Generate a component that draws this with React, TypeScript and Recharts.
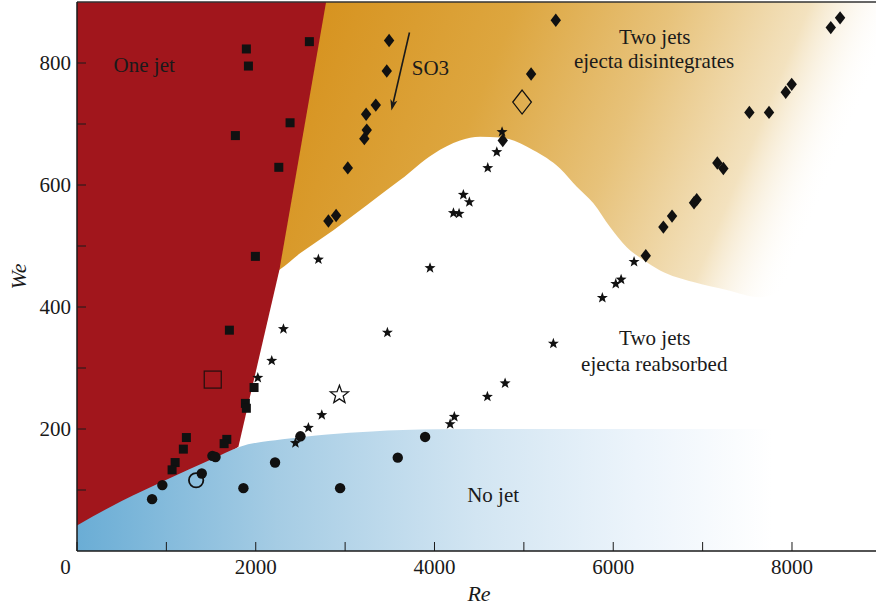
import React from 'react';
import {
  ComposedChart,
  Area,
  Scatter,
  XAxis,
  YAxis,
  ReferenceLine,
  ReferenceDot
} from 'recharts';

const FONT = '"Liberation Serif", "DejaVu Serif", serif';
const INK = '#1a1a1a';

// Regime boundaries as (Re, [We low, We high])
const redRegion = [
  { x: 0, range: [0, 900] },
  { x: 1806, range: [171, 900] },
  { x: 2265, range: [461, 900] },
  { x: 2787, range: [900, 900] }
];

const orangeRegion = [
  { x: 2200, range: [455, 900] },
  { x: 2265, range: [461, 900] },
  { x: 2496, range: [488, 900] },
  { x: 2869, range: [526, 900] },
  { x: 3242, range: [567, 900] },
  { x: 3615, range: [608, 900] },
  { x: 3988, range: [651, 900] },
  { x: 4286, range: [673, 900] },
  { x: 4510, range: [679, 900] },
  { x: 4734, range: [678, 900] },
  { x: 5107, range: [657, 900] },
  { x: 5405, range: [627, 900] },
  { x: 5592, range: [597, 900] },
  { x: 5778, range: [570, 900] },
  { x: 5964, range: [531, 900] },
  { x: 6151, range: [498, 900] },
  { x: 6337, range: [477, 900] },
  { x: 6524, range: [460, 900] },
  { x: 6897, range: [441, 900] },
  { x: 7270, range: [428, 900] },
  { x: 7643, range: [416, 900] },
  { x: 8016, range: [440, 900] },
  { x: 8389, range: [495, 900] },
  { x: 8762, range: [578, 900] },
  { x: 8940, range: [668, 900] }
];

const blueRegion = [
  { x: 0, range: [0, 42] },
  { x: 500, range: [0, 82] },
  { x: 1000, range: [0, 117] },
  { x: 1500, range: [0, 150] },
  { x: 1825, range: [0, 171] },
  { x: 2300, range: [0, 183] },
  { x: 2800, range: [0, 191] },
  { x: 3300, range: [0, 196] },
  { x: 4000, range: [0, 199.5] },
  { x: 5000, range: [0, 200] },
  { x: 8940, range: [0, 200] }
];

// Experiments
const oneJet = [
  { x: 1895, y: 823 }, { x: 1918, y: 795 }, { x: 2600, y: 835 }, { x: 2384, y: 702 },
  { x: 1772, y: 681 }, { x: 2258, y: 629 }, { x: 1996, y: 483 }, { x: 1705, y: 362 },
  { x: 1981, y: 268 }, { x: 1884, y: 242 }, { x: 1895, y: 234 }, { x: 1224, y: 186 },
  { x: 1676, y: 183 }, { x: 1646, y: 176 }, { x: 1190, y: 167 }, { x: 1098, y: 145 },
  { x: 1064, y: 133 }
];
const oneJetOpen = [{ x: 1519, y: 281 }];

const noJet = [
  { x: 840, y: 85 }, { x: 955, y: 108 }, { x: 1396, y: 127 }, { x: 1515, y: 156 },
  { x: 1550, y: 154 }, { x: 1862, y: 103 }, { x: 2216, y: 145 }, { x: 2500, y: 188 },
  { x: 2944, y: 103 }, { x: 3589, y: 153 }, { x: 3895, y: 187 }
];
const noJetOpen = [{ x: 1333, y: 116 }];

const reabsorbed = [
  { x: 2310, y: 364 }, { x: 2179, y: 312 }, { x: 2023, y: 284 }, { x: 2739, y: 223 },
  { x: 2589, y: 202 }, { x: 2444, y: 177 }, { x: 3473, y: 358 }, { x: 5330, y: 340 },
  { x: 4790, y: 275 }, { x: 4592, y: 253 }, { x: 4222, y: 220 }, { x: 4175, y: 208 },
  { x: 5878, y: 415 }, { x: 6028, y: 438 }, { x: 6088, y: 445 }, { x: 6233, y: 474 },
  { x: 2701, y: 478 }, { x: 3950, y: 464 }, { x: 4212, y: 554 }, { x: 4275, y: 553 },
  { x: 4323, y: 584 }, { x: 4390, y: 572 }, { x: 4596, y: 628 }, { x: 4697, y: 654 },
  { x: 4756, y: 687 }
];
const reabsorbedOpen = [{ x: 2936, y: 256 }];

const disintegrates = [
  { x: 3492, y: 837 }, { x: 3466, y: 787 }, { x: 3343, y: 731 }, { x: 3235, y: 716 },
  { x: 3242, y: 690 }, { x: 3215, y: 676 }, { x: 3030, y: 628 }, { x: 2899, y: 550 },
  { x: 2813, y: 541 }, { x: 4764, y: 673 }, { x: 5081, y: 782 }, { x: 5357, y: 870 },
  { x: 6364, y: 484 }, { x: 6561, y: 531 }, { x: 6658, y: 549 }, { x: 6904, y: 571 },
  { x: 6934, y: 576 }, { x: 7165, y: 636 }, { x: 7232, y: 627 }, { x: 7523, y: 719 },
  { x: 7743, y: 719 }, { x: 7930, y: 752 }, { x: 7997, y: 765 }, { x: 8434, y: 858 },
  { x: 8538, y: 874 }
];
const disintegratesOpen = [{ x: 4980, y: 736 }];

const reTicks = [0, 1000, 2000, 3000, 4000, 5000, 6000, 7000, 8000];
const weTicks = [100, 200, 300, 400, 500, 600, 700, 800];

// SO3 arrow, start and end in (Re, We)
const so3Arrow = [{ x: 3720, y: 850 }, { x: 3518, y: 722 }];

const regionLabels = [
  { x: 752, y: 785, text: 'One jet' },
  { x: 3954, y: 780, text: 'SO3' },
  { x: 6465, y: 831, text: 'Two jets' },
  { x: 6457, y: 791, text: 'ejecta disintegrates' },
  { x: 6465, y: 337, text: 'Two jets' },
  { x: 6459, y: 295, text: 'ejecta reabsorbed' },
  { x: 4656, y: 80, text: 'No jet' }
];

const starPoints = (cx: number, cy: number, R: number, r: number) => {
  const pts: string[] = [];
  for (let i = 0; i < 10; i++) {
    const a = -Math.PI / 2 + (i * Math.PI) / 5;
    const rad = i % 2 === 0 ? R : r;
    pts.push(`${cx + rad * Math.cos(a)},${cy + rad * Math.sin(a)}`);
  }
  return pts.join(' ');
};

const SquareMark = (p: any) => (
  <rect x={p.cx - 4.5} y={p.cy - 4.5} width={9} height={9} fill="#111" />
);
const OpenSquare = (p: any) => (
  <rect x={p.cx - 8.5} y={p.cy - 8.5} width={17} height={17} fill="none" stroke="#2a1010" strokeWidth={1.3} />
);
const CircleMark = (p: any) => <circle cx={p.cx} cy={p.cy} r={5.2} fill="#111" />;
const OpenCircle = (p: any) => (
  <circle cx={p.cx} cy={p.cy} r={7.2} fill="none" stroke="#111" strokeWidth={1.8} />
);
const StarMark = (p: any) => <polygon points={starPoints(p.cx, p.cy, 5.8, 2.4)} fill="#111" />;
const OpenStar = (p: any) => (
  <polygon points={starPoints(p.cx, p.cy, 9.5, 4)} fill="#fff" stroke="#111" strokeWidth={1.3} />
);
const DiamondMark = (p: any) => (
  <polygon
    points={`${p.cx},${p.cy - 6.7} ${p.cx + 5.2},${p.cy} ${p.cx},${p.cy + 6.7} ${p.cx - 5.2},${p.cy}`}
    fill="#111"
  />
);
const OpenDiamond = (p: any) => (
  <polygon
    points={`${p.cx},${p.cy - 12} ${p.cx + 9.3},${p.cy} ${p.cx},${p.cy + 12} ${p.cx - 9.3},${p.cy}`}
    fill="none"
    stroke="#111"
    strokeWidth={1.3}
  />
);

const ArrowShape = (p: any) => {
  const { x1, y1, x2, y2 } = p;
  const a = Math.atan2(y2 - y1, x2 - x1);
  const L = 11;
  const W = 3.6;
  const bx = x2 - L * Math.cos(a);
  const by = y2 - L * Math.sin(a);
  const nx = x2 - (L - 3) * Math.cos(a);
  const ny = y2 - (L - 3) * Math.sin(a);
  const head = `${x2},${y2} ${bx - W * Math.sin(a)},${by + W * Math.cos(a)} ${nx},${ny} ${bx + W * Math.sin(a)},${by - W * Math.cos(a)}`;
  return (
    <g>
      <line x1={x1} y1={y1} x2={nx} y2={ny} stroke={INK} strokeWidth={1.6} />
      <polygon points={head} fill={INK} />
    </g>
  );
};

const ReTick = (p: any) => {
  const v = p.payload.value;
  if (v % 2000 !== 0) return <g />;
  const dx = v === 0 ? -11.6 : 0;
  return (
    <text x={p.x + dx} y={p.y} dy="0.71em" textAnchor="middle" fontFamily={FONT} fontSize={21} fill={INK}>
      {v}
    </text>
  );
};

const ReLabel = (p: any) => {
  const vb = p.viewBox;
  return (
    <text x={vb.x + vb.width / 2 + 2.5} y={vb.y + 50} textAnchor="middle" fontFamily={FONT} fontStyle="italic" fontSize={22} fill={INK}>
      Re
    </text>
  );
};

const WeLabel = (p: any) => {
  const vb = p.viewBox;
  const x = vb.x + 18;
  const y = vb.y + vb.height / 2;
  return (
    <text x={x} y={y} transform={`rotate(-90 ${x} ${y})`} textAnchor="middle" dominantBaseline="central" fontFamily={FONT} fontStyle="italic" fontSize={22} fill={INK}>
      We
    </text>
  );
};

const textShape = (text: string) => (p: any) => (
  <text x={p.cx} y={p.cy} textAnchor="middle" fontFamily={FONT} fontSize={21} fill={INK}>
    {text}
  </text>
);

export default function App() {
  return (
    <div style={{ position: 'absolute', left: 0, top: 0, width: 876, height: 609, background: '#fff' }}>
      <ComposedChart width={876} height={609} margin={{ top: 2, right: 0, bottom: 28, left: 0 }}>
        <defs>
          <linearGradient id="orangeFade" gradientUnits="userSpaceOnUse" x1={310} y1={-20} x2={840} y2={201}>
            <stop offset="0" stopColor="#D6911C" />
            <stop offset="0.35" stopColor="#DDA63F" />
            <stop offset="0.6" stopColor="#E7C27A" />
            <stop offset="0.82" stopColor="#F3E2BF" />
            <stop offset="0.97" stopColor="#FFFFFF" stopOpacity={0} />
          </linearGradient>
          <linearGradient id="blueFade" x1="0" y1="0" x2="1" y2="0">
            <stop offset="0" stopColor="#6AADD5" />
            <stop offset="0.25" stopColor="#A5CCE4" />
            <stop offset="0.5" stopColor="#D2E5F2" />
            <stop offset="0.7" stopColor="#ECF4FB" />
            <stop offset="0.87" stopColor="#FFFFFF" />
          </linearGradient>
        </defs>
        <XAxis
          type="number"
          dataKey="x"
          domain={[0, 8940]}
          allowDataOverflow
          ticks={reTicks}
          interval={0}
          height={30}
          tickSize={-9}
          tickMargin={17}
          axisLine={{ stroke: INK, strokeWidth: 1.5 }}
          tickLine={{ stroke: INK, strokeWidth: 1 }}
          tick={ReTick}
          label={ReLabel}
        />
        <YAxis
          type="number"
          dataKey="y"
          domain={[0, 900]}
          allowDataOverflow
          ticks={weTicks}
          interval={0}
          width={77}
          tickSize={-9}
          tickMargin={15}
          axisLine={{ stroke: INK, strokeWidth: 1.5 }}
          tickLine={{ stroke: INK, strokeWidth: 1 }}
          tick={{ fontFamily: FONT, fontSize: 21, fill: INK }}
          tickFormatter={(v: number) => (v % 200 === 0 ? String(v) : '')}
          label={WeLabel}
        />
        <Area data={orangeRegion} dataKey="range" type="monotone" fill="url(#orangeFade)" fillOpacity={1} stroke="none" dot={false} activeDot={false} isAnimationActive={false} />
        <Area data={redRegion} dataKey="range" type="linear" fill="#A1161C" fillOpacity={1} stroke="none" dot={false} activeDot={false} isAnimationActive={false} />
        <Area data={blueRegion} dataKey="range" type="monotone" fill="url(#blueFade)" fillOpacity={1} stroke="none" dot={false} activeDot={false} isAnimationActive={false} />
        <ReferenceLine y={900} stroke="#333" strokeWidth={1.5} />
        <ReferenceLine segment={so3Arrow} shape={ArrowShape} ifOverflow="visible" />
        <Scatter data={oneJet} dataKey="y" shape={SquareMark} isAnimationActive={false} />
        <Scatter data={oneJetOpen} dataKey="y" shape={OpenSquare} isAnimationActive={false} />
        <Scatter data={noJet} dataKey="y" shape={CircleMark} isAnimationActive={false} />
        <Scatter data={noJetOpen} dataKey="y" shape={OpenCircle} isAnimationActive={false} />
        <Scatter data={reabsorbed} dataKey="y" shape={StarMark} isAnimationActive={false} />
        <Scatter data={reabsorbedOpen} dataKey="y" shape={OpenStar} isAnimationActive={false} />
        <Scatter data={disintegrates} dataKey="y" shape={DiamondMark} isAnimationActive={false} />
        <Scatter data={disintegratesOpen} dataKey="y" shape={OpenDiamond} isAnimationActive={false} />
        {regionLabels.map((l, i) => (
          <ReferenceDot key={i} x={l.x} y={l.y} r={0} ifOverflow="visible" shape={textShape(l.text)} />
        ))}
      </ComposedChart>
    </div>
  );
}
